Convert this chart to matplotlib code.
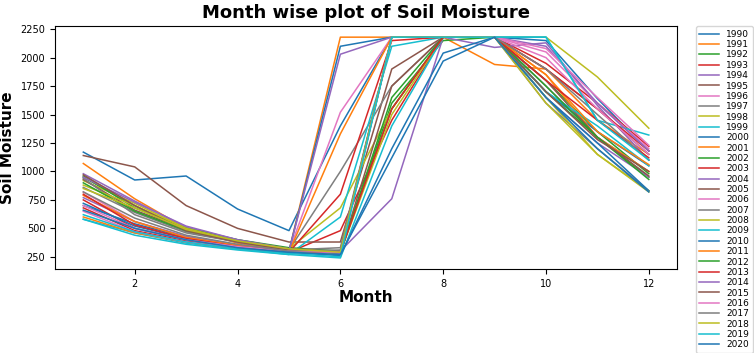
import numpy as np
import matplotlib
matplotlib.use("Agg")
import matplotlib.pyplot as plt

months = np.arange(1, 13)
years = list(range(1990, 2021))

# monthly soil moisture per year, Jan..Dec
sm_1990 = [1170, 925, 960, 670, 480, 1400, 2180, 2180, 2180, 2150, 1640, 1180]
sm_1991 = [1070, 760, 500, 370, 300, 2180, 2180, 2180, 1940, 1900, 1450, 1150]
sm_1992 = [950, 700, 480, 390, 320, 290, 1600, 2150, 2180, 1800, 1350, 980]
sm_1993 = [750, 500, 400, 340, 290, 480, 1450, 2180, 2180, 1950, 1600, 1220]
sm_1994 = [980, 740, 510, 400, 320, 300, 760, 2180, 2090, 2130, 1580, 1100]
sm_1995 = [1140, 1040, 700, 500, 380, 380, 1900, 2180, 2180, 1900, 1550, 1150]
sm_1996 = [820, 560, 420, 350, 300, 1520, 2180, 2180, 2180, 2050, 1600, 1200]
sm_1997 = [860, 640, 470, 380, 310, 1000, 1750, 2180, 2180, 1750, 1300, 1000]
sm_1998 = [920, 720, 500, 390, 320, 680, 1550, 2180, 2180, 2180, 1830, 1380]
sm_1999 = [580, 460, 370, 320, 270, 600, 2100, 2180, 2180, 2180, 1450, 1320]
sm_2000 = [700, 540, 420, 350, 300, 2100, 2180, 2180, 2180, 1700, 1350, 1050]
sm_2001 = [600, 460, 380, 320, 290, 1330, 2180, 2180, 2180, 1850, 1300, 1000]
sm_2002 = [960, 680, 500, 400, 330, 300, 1550, 2180, 2180, 1700, 1300, 950]
sm_2003 = [680, 480, 390, 330, 290, 800, 2150, 2180, 2180, 1900, 1550, 1180]
sm_2004 = [770, 560, 430, 350, 300, 2030, 2180, 2180, 2180, 1650, 1250, 950]
sm_2005 = [930, 660, 490, 390, 320, 290, 1750, 2180, 2180, 1800, 1300, 960]
sm_2006 = [650, 470, 380, 330, 290, 270, 2180, 2180, 2180, 2000, 1550, 1150]
sm_2007 = [940, 620, 460, 380, 310, 330, 2180, 2180, 2180, 1600, 1200, 830]
sm_2008 = [880, 700, 500, 390, 320, 290, 1500, 2180, 2180, 1600, 1150, 830]
sm_2009 = [580, 440, 360, 310, 270, 240, 1400, 2180, 2180, 1700, 1400, 1050]
sm_2010 = [720, 520, 410, 340, 290, 260, 1200, 2040, 2180, 1650, 1250, 830]
sm_2011 = [790, 560, 420, 350, 300, 280, 2180, 2180, 2180, 1850, 1350, 1060]
sm_2012 = [900, 650, 480, 390, 320, 280, 1650, 2180, 2180, 1750, 1300, 930]
sm_2013 = [800, 530, 410, 340, 300, 290, 1550, 2180, 2180, 1800, 1450, 1120]
sm_2014 = [950, 730, 520, 400, 320, 280, 2180, 2180, 2180, 2100, 1600, 1180]
sm_2015 = [970, 700, 480, 380, 310, 300, 2180, 2180, 2180, 1700, 1280, 1000]
sm_2016 = [700, 500, 400, 340, 300, 290, 2180, 2180, 2180, 2080, 1650, 1230]
sm_2017 = [820, 590, 440, 360, 300, 310, 2180, 2180, 2180, 1900, 1500, 1100]
sm_2018 = [850, 680, 490, 390, 320, 290, 2180, 2180, 2180, 1650, 1150, 820]
sm_2019 = [620, 470, 380, 320, 280, 250, 2180, 2180, 2180, 2180, 1450, 1100]
sm_2020 = [660, 500, 400, 330, 290, 270, 1120, 1970, 2180, 1650, 1200, 820]

series = [sm_1990, sm_1991, sm_1992, sm_1993, sm_1994, sm_1995, sm_1996,
          sm_1997, sm_1998, sm_1999, sm_2000, sm_2001, sm_2002, sm_2003,
          sm_2004, sm_2005, sm_2006, sm_2007, sm_2008, sm_2009, sm_2010,
          sm_2011, sm_2012, sm_2013, sm_2014, sm_2015, sm_2016, sm_2017,
          sm_2018, sm_2019, sm_2020]

fig = plt.figure(figsize=(7.54, 3.53), dpi=100)
ax = fig.add_axes([0.073, 0.238, 0.825, 0.688])

for yr, vals in zip(years, series):
    ax.plot(months, vals, linewidth=1.1, label=str(yr))

ax.set_title("Month wise plot of Soil Moisture", fontsize=13, fontweight="bold")
ax.set_xlabel("Month", fontsize=11, fontweight="bold", labelpad=1)
ax.set_ylabel("Soil Moisture", fontsize=11, fontweight="bold")
ax.tick_params(labelsize=7)
ax.legend(loc="upper left", bbox_to_anchor=(1.03, 1.0), fontsize=6.5,
          labelspacing=0.15, handlelength=2.2, borderaxespad=0)

fig.savefig("out.png", dpi=100)
